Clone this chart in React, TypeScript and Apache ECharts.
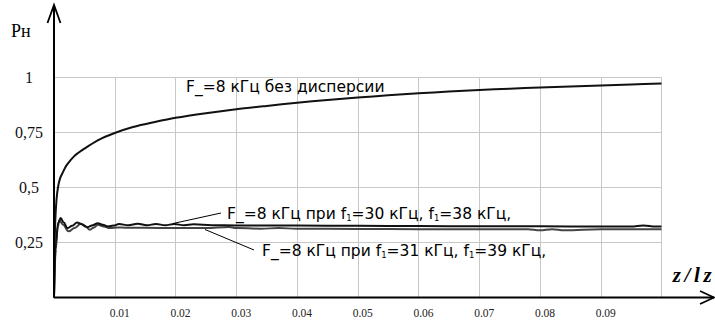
import React, { useEffect, useRef } from "react";
import * as echarts from "echarts";

// x positions (z/lz) and values for the curve without dispersion
const Z_TOP = [0, 0.00005, 0.0001, 0.0002, 0.0004, 0.00066, 0.001, 0.0015, 0.002, 0.0027, 0.0034, 0.005, 0.0072, 0.01, 0.013, 0.0166, 0.02, 0.025, 0.03, 0.035, 0.04, 0.045, 0.05, 0.055, 0.06, 0.065, 0.07, 0.075, 0.08, 0.085, 0.09, 0.095, 0.1];
const V_TOP = [0, 0.12, 0.22, 0.34, 0.44, 0.5, 0.54, 0.57, 0.597, 0.622, 0.643, 0.675, 0.713, 0.746, 0.773, 0.796, 0.815, 0.836, 0.854, 0.869, 0.883, 0.896, 0.907, 0.917, 0.926, 0.934, 0.941, 0.947, 0.952, 0.957, 0.962, 0.966, 0.97];

// f1 = 30 kHz, f1 = 38 kHz
const Z_A = [0, 0.0003, 0.0007, 0.0011, 0.0016, 0.0022, 0.003, 0.0038, 0.0046, 0.0055, 0.0064, 0.0072, 0.008, 0.0089, 0.0098, 0.0107, 0.0122, 0.0138, 0.0153, 0.0168, 0.0183, 0.0198, 0.0214, 0.023, 0.026, 0.03, 0.04, 0.05, 0.06, 0.07, 0.08, 0.09, 0.095, 0.097, 0.099, 0.1];
const V_A = [0, 0.25, 0.34, 0.36, 0.34, 0.315, 0.325, 0.34, 0.332, 0.319, 0.328, 0.337, 0.33, 0.322, 0.326, 0.333, 0.328, 0.334, 0.328, 0.333, 0.328, 0.333, 0.328, 0.332, 0.328, 0.327, 0.326, 0.325, 0.324, 0.323, 0.323, 0.322, 0.322, 0.327, 0.322, 0.322];

// f1 = 31 kHz, f1 = 39 kHz
const Z_B = [0, 0.0003, 0.0006, 0.0009, 0.0015, 0.0024, 0.0034, 0.0044, 0.0052, 0.0059, 0.0066, 0.0072, 0.0082, 0.0092, 0.0105, 0.012, 0.015, 0.02, 0.025, 0.0288, 0.03, 0.034, 0.037, 0.04, 0.05, 0.06, 0.07, 0.078, 0.08, 0.082, 0.084, 0.09, 0.1];
const V_B = [0, 0.22, 0.32, 0.349, 0.33, 0.3, 0.315, 0.334, 0.322, 0.307, 0.318, 0.33, 0.322, 0.315, 0.318, 0.316, 0.316, 0.315, 0.315, 0.32, 0.315, 0.312, 0.315, 0.312, 0.311, 0.31, 0.31, 0.31, 0.305, 0.31, 0.305, 0.31, 0.31];

const X_MIN = 0;
const X_MAX = 0.1;
const X_STEP = 0.01;
const Y_MIN = 0;
const Y_MAX = 1;
const Y_STEP = 0.25;

const LABEL_TOP = "F_=8 кГц без дисперсии";
const LABEL_A = ["F_=8 кГц при f", "1", "=30 кГц, f", "1", "=38 кГц,"];
const LABEL_B = ["F_=8 кГц при f", "1", "=31 кГц, f", "1", "=39 кГц,"];
const X_NAME = "z/lz";
const Y_NAME = "Рн";

const pairs = (xs: number[], ys: number[]) => xs.map((x, i) => [x, ys[i]]);
const richText = (parts: string[]) =>
  parts.map((p, i) => (i % 2 === 1 ? `{s|${p}}` : `{a|${p}}`)).join("");

const SERIF = "'Liberation Serif', 'Times New Roman', 'DejaVu Serif', serif";
const SANS = "'DejaVu Sans', sans-serif";

const GRID = { left: 54, right: 53.5, top: 77, bottom: 22.5 };

export default function App() {
  const ref = useRef<HTMLDivElement>(null);
  useEffect(() => {
    if (!ref.current) return;
    const chart = echarts.init(ref.current, null, { renderer: "svg" });
    const H = 320;
    const x0 = GRID.left;
    const y0 = H - GRID.bottom;
    const rich = {
      a: { fontFamily: SANS, fontSize: 15.5, color: "#000", verticalAlign: "bottom", lineHeight: 18 },
      s: { fontFamily: SANS, fontSize: 8.5, color: "#000", verticalAlign: "bottom", lineHeight: 14 },
    };
    const nameRich = {
      c: { fontFamily: SERIF, fontStyle: "italic", fontWeight: "bold", fontSize: 21, color: "#000", padding: [0, 1.8, 0, 1.8] },
    };
    chart.setOption({
      animation: false,
      grid: { ...GRID, containLabel: false },
      xAxis: {
        type: "value",
        min: X_MIN,
        max: X_MAX,
        interval: X_STEP,
        axisLine: { show: false },
        axisTick: { show: false },
        splitLine: { show: true, lineStyle: { color: "#c8c8c8", width: 1 } },
        axisLabel: {
          formatter: (v: number) => {
            const k = Math.round(v * 100);
            return k > 0 && k < 10 ? (k / 100).toFixed(2) : "";
          },
          fontFamily: SERIF,
          fontSize: 11.5,
          color: "#222",
          margin: 9,
          padding: [0, 0, 0, 10],
        },
      },
      yAxis: {
        type: "value",
        min: Y_MIN,
        max: Y_MAX,
        interval: Y_STEP,
        axisLine: { show: false },
        axisTick: { show: false },
        splitLine: { show: true, lineStyle: { color: "#c8c8c8", width: 1 } },
        axisLabel: {
          formatter: (v: number) => (v === 0 ? "" : String(v).replace(".", ",")),
          align: "center",
          margin: 25,
          fontFamily: SERIF,
          fontSize: 16,
          color: "#111",
        },
      },
      series: [
        {
          type: "line",
          data: pairs(Z_TOP, V_TOP),
          showSymbol: false,
          smooth: 0.3,
          lineStyle: { color: "#111", width: 2 },
        },
        {
          type: "line",
          data: pairs(Z_B, V_B),
          showSymbol: false,
          smooth: 0.4,
          smoothMonotone: "x",
          lineStyle: { color: "#444", width: 2 },
        },
        {
          type: "line",
          data: pairs(Z_A, V_A),
          showSymbol: false,
          smooth: 0.4,
          smoothMonotone: "x",
          lineStyle: { color: "#111", width: 2 },
        },
      ],
      graphic: [
        { type: "line", shape: { x1: x0, y1: y0, x2: x0, y2: 5 }, style: { stroke: "#000", lineWidth: 2 }, z: 10 },
        { type: "polyline", shape: { points: [[47.5, 23], [x0, 5], [60.5, 23]] }, style: { stroke: "#000", lineWidth: 1.8, fill: null }, z: 10 },
        { type: "line", shape: { x1: x0, y1: y0, x2: 714, y2: y0 }, style: { stroke: "#000", lineWidth: 2 }, z: 10 },
        { type: "polyline", shape: { points: [[700, y0 - 6.5], [714, y0], [700, y0 + 6.5]] }, style: { stroke: "#000", lineWidth: 1.8, fill: null }, z: 10 },
        { type: "text", x: 11, y: 31, style: { text: Y_NAME, fontFamily: SERIF, fontSize: 18, fill: "#000", verticalAlign: "middle" }, z: 10 },
        {
          type: "text",
          x: 671,
          y: 275,
          style: { text: X_NAME.split("").map((c) => `{c|${c}}`).join(""), rich: nameRich, verticalAlign: "middle" },
          z: 10,
        },
        { type: "text", x: 186, y: 87, style: { text: LABEL_TOP, fontFamily: SANS, fontSize: 15.5, fill: "#000", verticalAlign: "middle" }, z: 10 },
        { type: "line", shape: { x1: 221, y1: 213, x2: 173, y2: 223.5 }, style: { stroke: "#000", lineWidth: 1 }, z: 10 },
        { type: "line", shape: { x1: 254, y1: 250, x2: 205, y2: 229.5 }, style: { stroke: "#000", lineWidth: 1 }, z: 10 },
        { type: "text", x: 227, y: 213, style: { text: richText(LABEL_A), rich, verticalAlign: "middle" }, z: 10 },
        { type: "text", x: 262, y: 250, style: { text: richText(LABEL_B), rich, verticalAlign: "middle" }, z: 10 },
      ],
    });
    return () => chart.dispose();
  }, []);
  return (
    <div
      ref={ref}
      style={{ position: "absolute", left: 0, top: 0, width: 715, height: 320, background: "#fff" }}
    />
  );
}
